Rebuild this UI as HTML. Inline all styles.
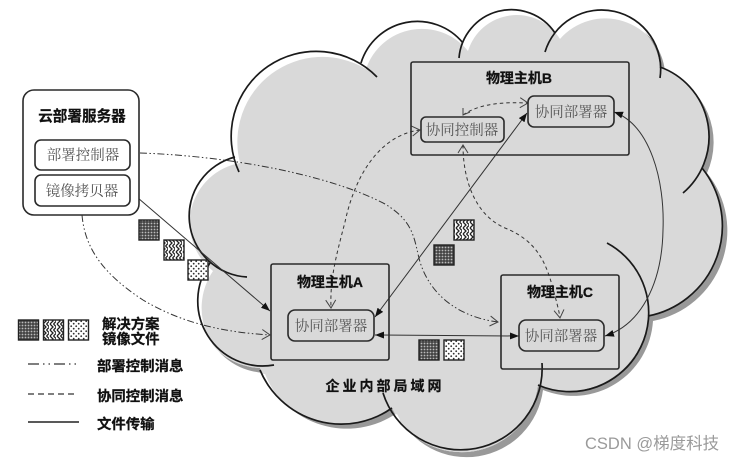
<!DOCTYPE html>
<html><head><meta charset="utf-8">
<style>
html,body{margin:0;padding:0;background:#fff;}
svg{display:block;filter:blur(.35px);}
text{font-family:"Liberation Sans","Noto Sans CJK SC",sans-serif;}
.b{font-weight:700;font-size:14px;fill:#111;text-anchor:middle;stroke:#111;stroke-width:.25;}
.s{font-family:"Liberation Serif","Noto Serif CJK SC",serif;font-size:14.5px;fill:#555;text-anchor:middle;}
.l{font-weight:700;font-size:14.4px;fill:#111;stroke:#111;stroke-width:.25;}
.box{fill:none;stroke:#2a2a2a;stroke-width:1.6;}
.cl{fill:none;stroke:#1a1a1a;stroke-width:1.7;}
.c{fill:none;stroke:#333;stroke-width:1;}
.d{stroke-dasharray:3.5 3;}
.dd{stroke-dasharray:7 2.5 1.5 2.5 1.5 2.5;}
</style></head>
<body>
<svg xmlns="http://www.w3.org/2000/svg" width="736" height="461" viewBox="0 0 736 461">
<defs>
<path id="cloud" d="M235,157 A61,61 0 0 0 208,265 A66,66 0 0 0 260,368 A88,88 0 0 0 392,408 A77,77 0 0 0 538,385 A80,80 0 0 0 648,316 A92,92 0 0 0 702,168 A75,75 0 0 0 660,67 A60,60 0 0 0 555,33 A51,51 0 0 0 463,45 A59,59 0 0 0 361,63 A85,85 0 0 0 235,157 Z"/>
<clipPath id="clipc"><use href="#cloud"/></clipPath>
<pattern id="pd" width="3" height="3" patternUnits="userSpaceOnUse"><rect width="3" height="3" fill="#444"/><circle cx="1.5" cy="1.5" r=".9" fill="#bbb"/></pattern>
<pattern id="pw" width="7" height="6" patternUnits="userSpaceOnUse"><rect width="7" height="6" fill="#fff"/><path d="M1,0 L4,3 L1,6 M4.5,0 L7.5,3 L4.5,6" fill="none" stroke="#222" stroke-width="1.3"/></pattern>
<pattern id="pt" width="5" height="5" patternUnits="userSpaceOnUse"><rect width="5" height="5" fill="#fff"/><circle cx="1.2" cy="1.2" r=".9" fill="#333"/><circle cx="3.7" cy="3.7" r=".9" fill="#333"/></pattern>
<marker id="f" markerUnits="userSpaceOnUse" markerWidth="10" markerHeight="8" refX="9" refY="4" orient="auto-start-reverse"><path d="M0,0.5 L9,4 L0,7.5 Z" fill="#111"/></marker>
<marker id="o" markerUnits="userSpaceOnUse" markerWidth="11" markerHeight="12" refX="9" refY="6" orient="auto-start-reverse"><path d="M1,1 L9,6 L1,11" fill="none" stroke="#444" stroke-width="1"/></marker>
</defs>
<rect width="736" height="461" fill="#fff"/>

<!-- cloud -->
<use href="#cloud" transform="translate(5,5)" fill="#999"/>
<use href="#cloud" fill="#fff"/>
<g clip-path="url(#clipc)"><use href="#cloud" transform="translate(5,6)" fill="#d9d9d9"/><rect x="400" y="250" width="330" height="210" fill="#d9d9d9"/><rect x="560" y="60" width="170" height="400" fill="#d9d9d9"/></g>
<g class="cl">
<path d="M235,157 A61,61 0 0 0 247,277"/>
<path d="M210,263 A65,65 0 0 0 274,365"/>
<path d="M260,370 A88,88 0 0 0 392,408"/>
<path d="M383,393 A81.5,81.5 0 0 0 542,363"/>
<path d="M538,385 A79,79 0 0 0 607,243"/>
<path d="M648,316 A92,92 0 0 0 702,168"/>
<path d="M683,193 A74,74 0 0 0 660,67"/>
<path d="M660,78 A59.1,59.1 0 0 0 545,52"/>
<path d="M555,33 A52.5,52.5 0 0 0 459,58"/>
<path d="M463,43 A59,59 0 0 0 361,63"/>
<path d="M377,77 A85,85 0 0 0 239,172"/>
</g>

<!-- connectors -->
<path class="c dd" d="M140,153 C230,156 330,175 385,204 C415,222 414,240 420,262 C432,300 465,318 498,322" marker-end="url(#o)"/>
<path class="c dd" d="M82,215 C85,250 105,275 143,300 C180,322 220,332 270,335" marker-end="url(#o)"/>
<path class="c" d="M131,192 L270,311" marker-end="url(#f)"/>
<path class="c" d="M375,317 L527,113" marker-start="url(#f)" marker-end="url(#f)"/>
<path class="c" d="M375,335 L519,336" marker-start="url(#f)" marker-end="url(#f)"/>
<path class="c" d="M614,112 C650,125 665,180 663,230 C662,285 640,325 605,336" marker-start="url(#f)" marker-end="url(#f)"/>
<path class="c d" d="M420,130 C380,135 355,175 345,222 C335,260 330,280 331,308" marker-start="url(#o)" marker-end="url(#o)"/>
<path class="c d" d="M463,115 C480,103 505,102 528,103" marker-end="url(#o)"/>
<path d="M463,108 L463,115 L470,112" fill="none" stroke="#444"/>
<path class="c d" d="M463,145 C463,180 475,215 505,228 C535,240 545,260 552,285 C556,300 559,310 560,318" marker-start="url(#o)" marker-end="url(#o)"/>

<!-- server -->
<rect x="23" y="90" width="116" height="125" rx="11" class="box" style="fill:#fff"/>
<text class="b" x="82" y="121" style="font-size:14.6px">云部署服务器</text>
<rect x="35" y="140" width="95" height="30" rx="6" class="box"/>
<text class="s" x="83" y="160">部署控制器</text>
<rect x="35" y="175" width="95" height="31" rx="6" class="box"/>
<text class="s" x="82" y="196">镜像拷贝器</text>

<!-- hosts -->
<rect x="411" y="62" width="218" height="93" rx="2" class="box"/>
<text class="b" x="519" y="83">物理主机B</text>
<rect x="528" y="96" width="86" height="31" rx="6" class="box"/>
<text class="s" x="571" y="117">协同部署器</text>
<rect x="421" y="117" width="83" height="25" rx="5" class="box"/>
<text class="s" x="462" y="135">协同控制器</text>

<rect x="271" y="264" width="118" height="96" rx="2" class="box"/>
<text class="b" x="330" y="287">物理主机A</text>
<rect x="288" y="310" width="86" height="31" rx="7" class="box"/>
<text class="s" x="331" y="331">协同部署器</text>

<rect x="501" y="275" width="118" height="94" rx="2" class="box"/>
<text class="b" x="560" y="297">物理主机C</text>
<rect x="519" y="320" width="85" height="31" rx="7" class="box"/>
<text class="s" x="561" y="341">协同部署器</text>

<text class="b" x="385" y="391" style="letter-spacing:3px">企业内部局域网</text>

<!-- squares -->
<g stroke="#222" stroke-width="1.4">
<rect x="139" y="220" width="20" height="20" fill="url(#pd)"/>
<rect x="164" y="240" width="20" height="20" fill="url(#pw)"/>
<rect x="188" y="260" width="20" height="20" fill="url(#pt)"/>
<rect x="454" y="220" width="20" height="20" fill="url(#pw)"/>
<rect x="434" y="245" width="20" height="20" fill="url(#pd)"/>
<rect x="419" y="340" width="20" height="20" fill="url(#pd)"/>
<rect x="444" y="340" width="20" height="20" fill="url(#pt)"/>
<rect x="18.500" y="320" width="20" height="20" fill="url(#pd)"/>
<rect x="43.500" y="320" width="20" height="20" fill="url(#pw)"/>
<rect x="68.500" y="320" width="20" height="20" fill="url(#pt)"/>
</g>

<!-- legend -->
<text class="l" x="102" y="329">解决方案</text>
<text class="l" x="102" y="344">镜像文件</text>
<path d="M28,364 H80" stroke="#333" stroke-width="1.3" stroke-dasharray="11 4 1.5 4 1.5 4" fill="none"/>
<path d="M28,394 H76" stroke="#333" stroke-width="1.3" stroke-dasharray="6 4" fill="none"/>
<path d="M28,422 H79" stroke="#222" stroke-width="1.4" fill="none"/>
<text class="l" x="97" y="371">部署控制消息</text>
<text class="l" x="97" y="401">协同控制消息</text>
<text class="l" x="97" y="429">文件传输</text>

<text x="585" y="449" style="font-size:16.500px;fill:#9a9a9a">CSDN @梯度科技</text>
</svg>
</body></html>
